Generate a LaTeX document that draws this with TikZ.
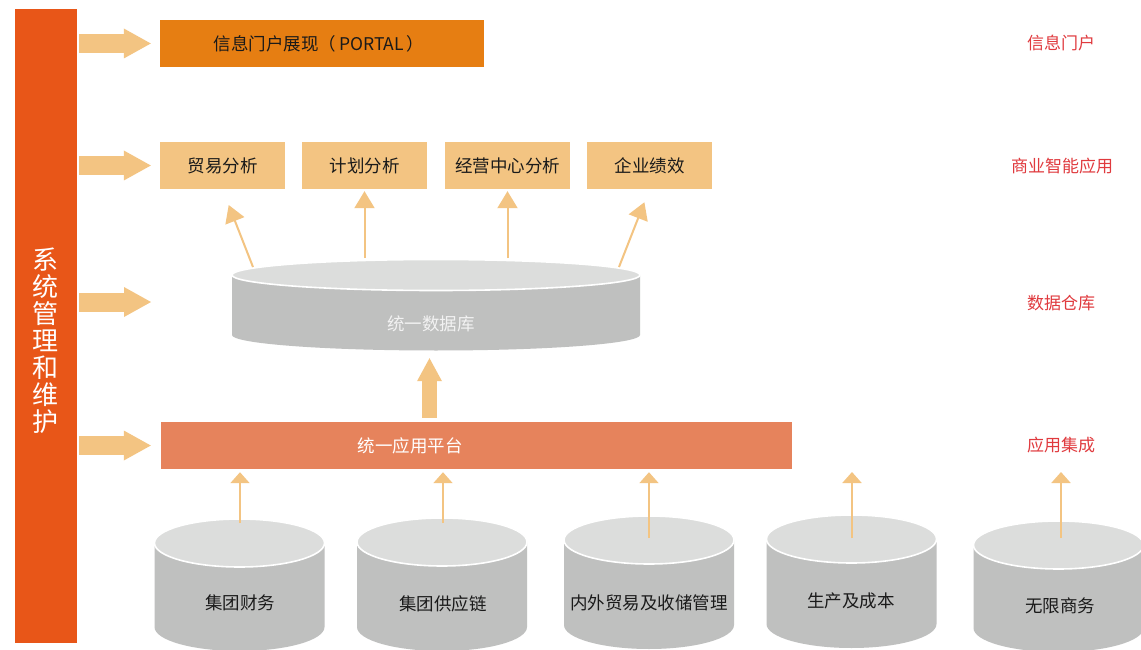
\documentclass[tikz,border=0pt]{standalone}
\usepackage{fontspec}
\setmainfont{Noto Sans CJK SC}
\usetikzlibrary{arrows.meta,calc}
\definecolor{barc}{RGB}{232,86,24}
\definecolor{lightc}{RGB}{243,196,130}
\definecolor{portalc}{RGB}{230,126,18}
\definecolor{platc}{RGB}{230,131,92}
\definecolor{cyltopc}{RGB}{220,221,220}
\definecolor{cylbodyc}{RGB}{191,192,191}
\definecolor{redc}{RGB}{224,58,62}
\definecolor{txtc}{RGB}{26,26,26}
\newcommand\mycyl[5]{%
  \fill[cylbodyc] (#1-#4,#2) -- (#1-#4,#3) arc[start angle=180,end angle=360,x radius=#4pt,y radius=#5pt] -- (#1+#4,#2) -- cycle;
  \filldraw[fill=cyltopc,draw=white,line width=1.6pt] (#1,#2) ellipse [x radius=#4pt,y radius=#5pt];}
\begin{document}
\begin{tikzpicture}[x=1pt,y=-1pt,
  boxtxt/.style={font=\fontsize{17.5}{20}\selectfont,text=txtc,inner sep=0pt,align=center},
  bibox/.style={boxtxt,fill=lightc,minimum width=125pt,minimum height=47pt},
  redlabel/.style={font=\fontsize{17}{20}\selectfont,text=redc,inner sep=0pt},
  thinarrow/.style={draw=lightc,line width=2pt,-{Triangle[width=20pt,length=17pt]}},
  smallarrow/.style={draw=lightc,line width=2pt,-{Triangle[width=19pt,length=11pt]}},
  fatarrow/.style={draw=lightc,line width=19pt,-{Triangle[width=30pt,length=27pt,line width=0pt]}},
  fatup/.style={draw=lightc,line width=15pt,-{Triangle[width=25pt,length=23pt,line width=0pt]}}]
\useasboundingbox (0,0) rectangle (1141,650);
\clip (0,0) rectangle (1141,650);
\fill[white] (0,0) rectangle (1141,650);

% left bar
\node[fill=barc,minimum width=61.5pt,minimum height=634pt,inner sep=0pt] (sys) at (45.75,326) {};
\node[font=\fontsize{26}{27}\selectfont,text=white,align=center,inner sep=0pt] (systxt) at (45,341) {系\\统\\管\\理\\和\\维\\护};

% portal
\node[boxtxt,fill=portalc,minimum width=324pt,minimum height=47pt] (portal) at (322,43.5) {\hspace*{-6pt}信息门户展现（\,PORTAL\,）};

% BI boxes
\node[bibox] (bi1) at (222.5,165.5) {贸易分析};
\node[bibox] (bi2) at (364.5,165.5) {计划分析};
\node[bibox] (bi3) at (507.5,165.5) {经营中心分析};
\node[bibox] (bi4) at (649.5,165.5) {企业绩效};

% database
\mycyl{436}{275}{335}{204}{15.5}
\node[minimum width=408pt,minimum height=91pt,inner sep=0pt] (db) at (436,305.5) {};
\node[font=\fontsize{17.5}{20}\selectfont,text=white!95!black,inner sep=0pt] (dbtxt) at (431,324) {统一数据库};

% platform
\node[fill=platc,minimum width=631pt,minimum height=47pt,inner sep=0pt] (plat) at (476.5,445.5) {};
\node[font=\fontsize{17.5}{20}\selectfont,text=white,inner sep=0pt] (plattxt) at (410,446) {统一应用平台};

% bottom cylinders
\mycyl{239.5}{543}{627}{85}{24}
\mycyl{442}{542}{627}{85}{24}
\mycyl{649}{540}{625}{85}{24}
\mycyl{851.5}{539}{624}{85}{24}
\mycyl{1058.5}{545}{628}{85}{24}
\node[boxtxt] (c1) at (240,603) {集团财务};
\node[boxtxt] (c2) at (443,604) {集团供应链};
\node[boxtxt] (c3) at (649,603) {内外贸易及收储管理};
\node[boxtxt] (c4) at (851,601) {生产及成本};
\node[boxtxt] (c5) at (1060,606) {无限商务};

% right labels
\node[redlabel] (l1) at (1061,43) {信息门户};
\node[redlabel] (l2) at (1062,166) {商业智能应用};
\node[redlabel] (l3) at (1061,303) {数据仓库};
\node[redlabel] (l4) at (1061,445) {应用集成};

% fat arrows from bar
\coordinate (f3) at (151,302);
\draw[fatarrow,shorten <=2.5pt,shorten >=9pt] (sys.east |- portal.west) -- (portal.west);
\draw[fatarrow,shorten <=2.5pt,shorten >=9pt] (sys.east |- bi1.west) -- (bi1.west);
\draw[fatarrow,shorten <=2.5pt] (sys.east |- f3) -- (f3);
\draw[fatarrow,shorten <=2.5pt,shorten >=10pt] (sys.east |- plat.west) -- (plat.west);

% fat up arrow platform -> db
\coordinate (fx) at (429.5,0);
\draw[fatup,shorten <=4pt,shorten >=7pt] (plat.north -| fx) -- (fx |- db.south);

% arrows db -> BI
\coordinate (d1) at (253,267);
\coordinate (d2) at (364.5,258);
\coordinate (d3) at (507.5,258);
\coordinate (d4) at (619,267);
\draw[thinarrow,shorten >=17pt] (d1) -- (bi1.south);
\draw[thinarrow,shorten >=2pt] (d2) -- (bi2.south);
\draw[thinarrow,shorten >=2pt] (d3) -- (bi3.south);
\draw[thinarrow,shorten >=14pt] (d4) -- (bi4.south);

% arrows cylinders -> platform
\coordinate (s1) at (240,523);
\coordinate (s2) at (443,523);
\coordinate (s3) at (649,538);
\coordinate (s4) at (852,538);
\coordinate (s5) at (1061,538);
\coordinate (h4) at (852,472);
\coordinate (h5) at (1061,472);
\draw[smallarrow,shorten >=3pt] (s1) -- (s1 |- plat.south);
\draw[smallarrow,shorten >=3pt] (s2) -- (s2 |- plat.south);
\draw[smallarrow,shorten >=3pt] (s3) -- (s3 |- plat.south);
\draw[smallarrow] (s4) -- (h4);
\draw[smallarrow] (s5) -- (h5);
\end{tikzpicture}
\end{document}
